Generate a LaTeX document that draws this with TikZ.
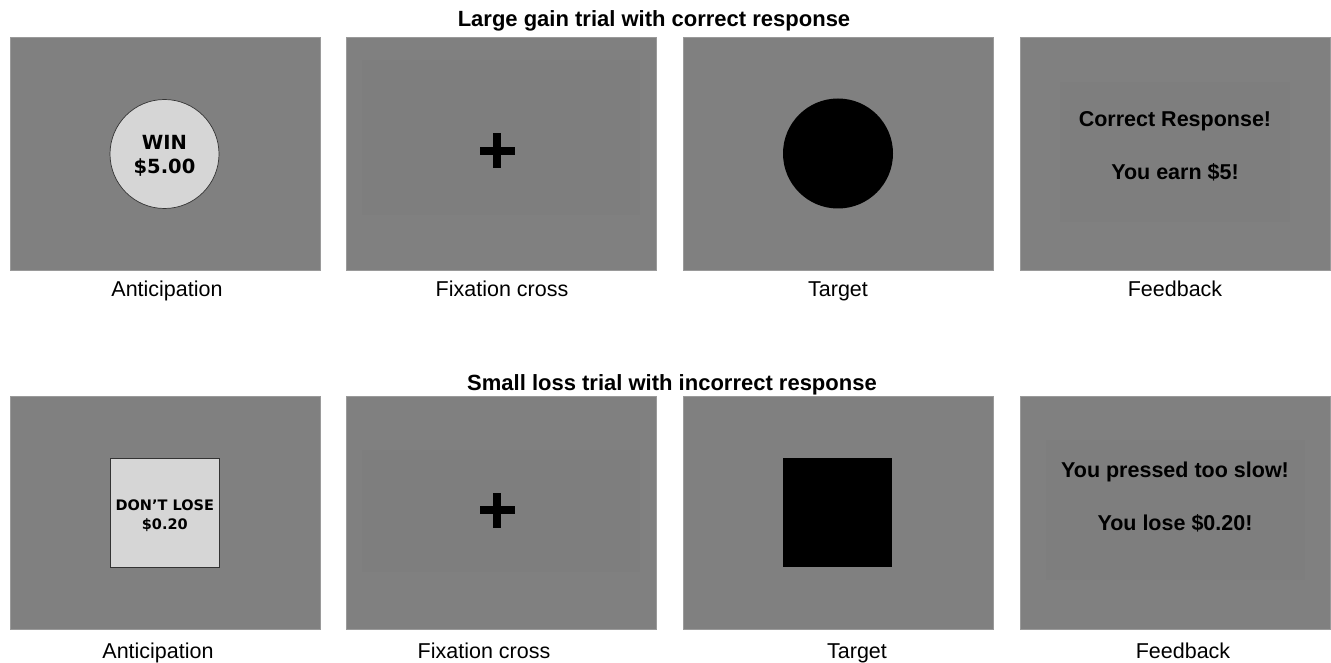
\documentclass[tikz,border=0pt]{standalone}
\usepackage{fontspec}
\setmainfont{Liberation Sans}
\newfontfamily\dvfont{DejaVu Sans}
\definecolor{panelgray}{HTML}{808080}
\definecolor{innergray}{HTML}{7E7E7E}
\definecolor{cuegray}{HTML}{D6D6D6}
\definecolor{edgegray}{HTML}{9A9A9A}
\begin{document}
\begin{tikzpicture}[x=1pt,y=-1pt,
  panel/.style={fill=panelgray,draw=edgegray,line width=0.6pt},
  inner/.style={fill=innergray,draw=none},
  title/.style={font=\fontsize{22}{24}\selectfont\bfseries,anchor=base,inner sep=0pt},
  caption/.style={font=\fontsize{21.5}{24}\selectfont,anchor=base,inner sep=0pt},
  fbtext/.style={font=\fontsize{21.5}{24}\selectfont\bfseries,anchor=base,inner sep=0pt,text=black},
  cuetext/.style={align=center,inner sep=0pt}]
\useasboundingbox (0,0) rectangle (1331,663);
% titles
\node[title] (t1) at (654,27) {Large gain trial with correct response};
\node[title] (t2) at (672,390) {Small loss trial with incorrect response};
% panels
\foreach \x in {10,346.7,683.3,1020}{
  \draw[panel] (\x,37) rectangle ++(310,233);
  \draw[panel] (\x,396) rectangle ++(310,233);
}
% subtle inner areas
\fill[inner] (362,60) rectangle (640,215);
\fill[inner] (1060,82) rectangle (1290,222);
\fill[inner] (362,450) rectangle (640,572);
\fill[inner] (1046,440) rectangle (1305,580);
% row 1 contents
\node[circle,draw=black!80,line width=0.7pt,fill=cuegray,minimum size=109pt,inner sep=0pt] (win) at (164.5,154) {};
\node[cuetext,font=\dvfont\bfseries\fontsize{19.5}{24}\selectfont] (wintext) at (164.5,156) {WIN\\\$5.00};
\node[fill=black,minimum width=35pt,minimum height=8.5pt,inner sep=0pt] (cross1h) at (497,151) {};
\node[fill=black,minimum width=8.5pt,minimum height=35pt,inner sep=0pt] (cross1v) at (497,151) {};
\node[circle,fill=black,minimum size=110pt,inner sep=0pt] (target1) at (838,153.5) {};
\node[fbtext] (fb1a) at (1175,127) {Correct Response!};
\node[fbtext] (fb1b) at (1175,180) {You earn \$5!};
% row 1 captions
\node[caption] (c1a) at (167,296) {Anticipation};
\node[caption] (c1b) at (502,296) {Fixation cross};
\node[caption] (c1c) at (838,296) {Target};
\node[caption] (c1d) at (1175,296) {Feedback};
% row 2 contents
\node[draw=black!80,line width=0.7pt,fill=cuegray,minimum size=109pt,inner sep=0pt] (lose) at (164.8,512.5) {};
\node[cuetext,font=\dvfont\bfseries\fontsize{14.5}{19}\selectfont] (losetext) at (164.8,516) {DON’T LOSE\\\$0.20};
\node[fill=black,minimum width=35pt,minimum height=8.5pt,inner sep=0pt] (cross2h) at (497,510) {};
\node[fill=black,minimum width=8.5pt,minimum height=35pt,inner sep=0pt] (cross2v) at (497,510) {};
\node[fill=black,minimum size=109pt,inner sep=0pt] (target2) at (837.5,512.5) {};
\node[fbtext] (fb2a) at (1175,477) {You pressed too slow!};
\node[fbtext] (fb2b) at (1175,530) {You lose \$0.20!};
% row 2 captions
\node[caption] (c2a) at (158,658) {Anticipation};
\node[caption] (c2b) at (484,658) {Fixation cross};
\node[caption] (c2c) at (857,658) {Target};
\node[caption] (c2d) at (1183,658) {Feedback};
\end{tikzpicture}
\end{document}
